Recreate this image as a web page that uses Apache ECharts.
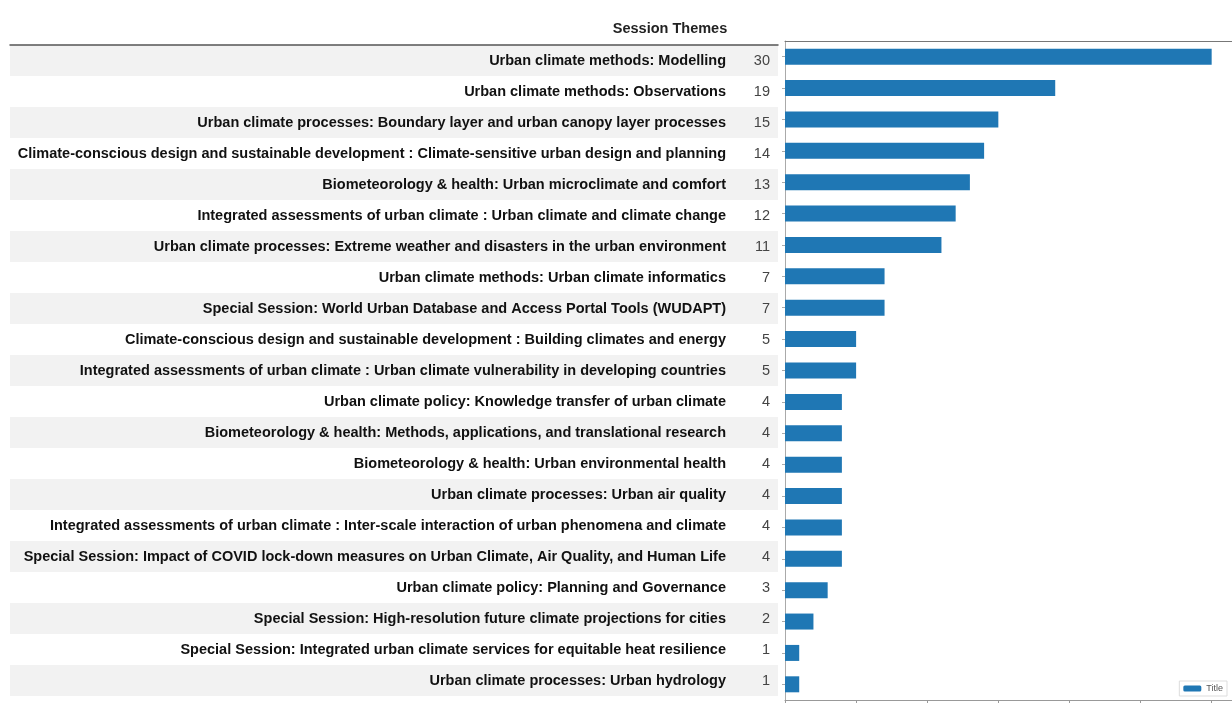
<!DOCTYPE html>
<html>
<head>
<meta charset="utf-8">
<script src="https://cdn.jsdelivr.net/npm/echarts@6/dist/echarts.min.js"></script>
<style>html,body{margin:0;padding:0;background:#fff;}#c{width:1232px;height:704px;}</style>
</head>
<body>
<div id="c"></div>
<script>
const categories = [
  "Urban climate methods: Modelling",
  "Urban climate methods: Observations",
  "Urban climate processes: Boundary layer and urban canopy layer processes",
  "Climate-conscious design and sustainable development : Climate-sensitive urban design and planning",
  "Biometeorology & health: Urban microclimate and comfort",
  "Integrated assessments of urban climate : Urban climate and climate change",
  "Urban climate processes: Extreme weather and disasters in the urban environment",
  "Urban climate methods: Urban climate informatics",
  "Special Session: World Urban Database and Access Portal Tools (WUDAPT)",
  "Climate-conscious design and sustainable development : Building climates and energy",
  "Integrated assessments of urban climate : Urban climate vulnerability in developing countries",
  "Urban climate policy: Knowledge transfer of urban climate",
  "Biometeorology & health: Methods, applications, and translational research",
  "Biometeorology & health: Urban environmental health",
  "Urban climate processes: Urban air quality",
  "Integrated assessments of urban climate : Inter-scale interaction of urban phenomena and climate",
  "Special Session: Impact of COVID lock-down measures on Urban Climate, Air Quality, and Human Life",
  "Urban climate policy: Planning and Governance",
  "Special Session: High-resolution future climate projections for cities",
  "Special Session: Integrated urban climate services for equitable heat resilience",
  "Urban climate processes: Urban hydrology"
];
const counts = [30, 19, 15, 14, 13, 12, 11, 7, 7, 5, 5, 4, 4, 4, 4, 4, 4, 3, 2, 1, 1];
const xTicks = [0, 5, 10, 15, 20, 25, 30];
const headerTitle = "Session Themes";
const seriesName = "Title";

const chart = echarts.init(document.getElementById('c'), null, {renderer: 'canvas'});
const FONT = '"Liberation Sans", Arial, sans-serif';
chart.setOption({
  animation: false,
  backgroundColor: '#ffffff',
  title: {
    text: headerTitle,
    left: 665, top: 16, textAlign: 'center',
    textStyle: {fontFamily: FONT, fontSize: 14.5, fontWeight: 'bold', color: '#222'}
  },
  legend: {
    data: [seriesName],
    right: 5, bottom: 8,
    orient: 'vertical',
    itemWidth: 18, itemHeight: 6,
    itemGap: 2,
    padding: [3, 4, 3, 4],
    borderColor: '#dddddd', borderWidth: 1,
    textStyle: {fontFamily: FONT, fontSize: 9, color: '#555'}
  },
  grid: [
    {left: 10, top: 45, width: 768, height: 651, outerBoundsMode: 'none', containLabel: false},
    {left: 785, top: 41, right: -1, bottom: 4, outerBoundsMode: 'none', containLabel: false}
  ],
  xAxis: [
    {gridIndex: 0, type: 'value', position: 'top', show: true,
     axisLine: {show: true, lineStyle: {color: '#555', width: 1.5}},
     axisTick: {show: false}, axisLabel: {show: false}, splitLine: {show: false}},
    {gridIndex: 1, type: 'value', min: 0, max: 31.5, interval: 5, position: 'bottom',
     axisLine: {show: true, lineStyle: {color: '#999'}},
     axisTick: {show: true, length: 3, lineStyle: {color: '#999'}},
     axisLabel: {fontFamily: FONT, fontSize: 9, color: '#666', margin: 4,
       showMaxLabel: false,
       formatter: v => xTicks.indexOf(v) >= 0 ? String(v) : ''},
     splitLine: {show: false}},
    {gridIndex: 1, type: 'value', min: 0, max: 31.5, position: 'top',
     axisLine: {show: true, lineStyle: {color: '#777'}},
     axisTick: {show: false}, axisLabel: {show: false}, splitLine: {show: false}}
  ],
  yAxis: [
    {gridIndex: 0, type: 'category', data: categories, inverse: true, position: 'right',
     axisLine: {show: false}, axisTick: {show: false},
     axisLabel: {inside: true, margin: 52, padding: [3, 0, 0, 0], fontFamily: FONT, fontSize: 14.5, fontWeight: 'bold', color: '#111'},
     splitArea: {show: true, areaStyle: {color: ['#f2f2f2', '#ffffff']}},
     splitLine: {show: false}},
    {gridIndex: 0, type: 'category', data: counts.map(String), inverse: true, position: 'right',
     axisLine: {show: false}, axisTick: {show: false},
     axisLabel: {inside: true, margin: 8, padding: [3, 0, 0, 0], fontFamily: FONT, fontSize: 14.5, color: '#444'},
     splitArea: {show: false}, splitLine: {show: false}},
    {gridIndex: 1, type: 'category', data: categories, inverse: true, position: 'left',
     axisLine: {show: true, lineStyle: {color: '#aaa'}},
     axisTick: {show: true, alignWithLabel: true, length: 3, lineStyle: {color: '#aaa'}},
     axisLabel: {show: false}, splitLine: {show: false}}
  ],
  series: [
    {name: seriesName, type: 'bar', xAxisIndex: 1, yAxisIndex: 2,
     data: counts, barWidth: 16,
     itemStyle: {color: '#1f77b4'}}
  ]
});
</script>
</body>
</html>
